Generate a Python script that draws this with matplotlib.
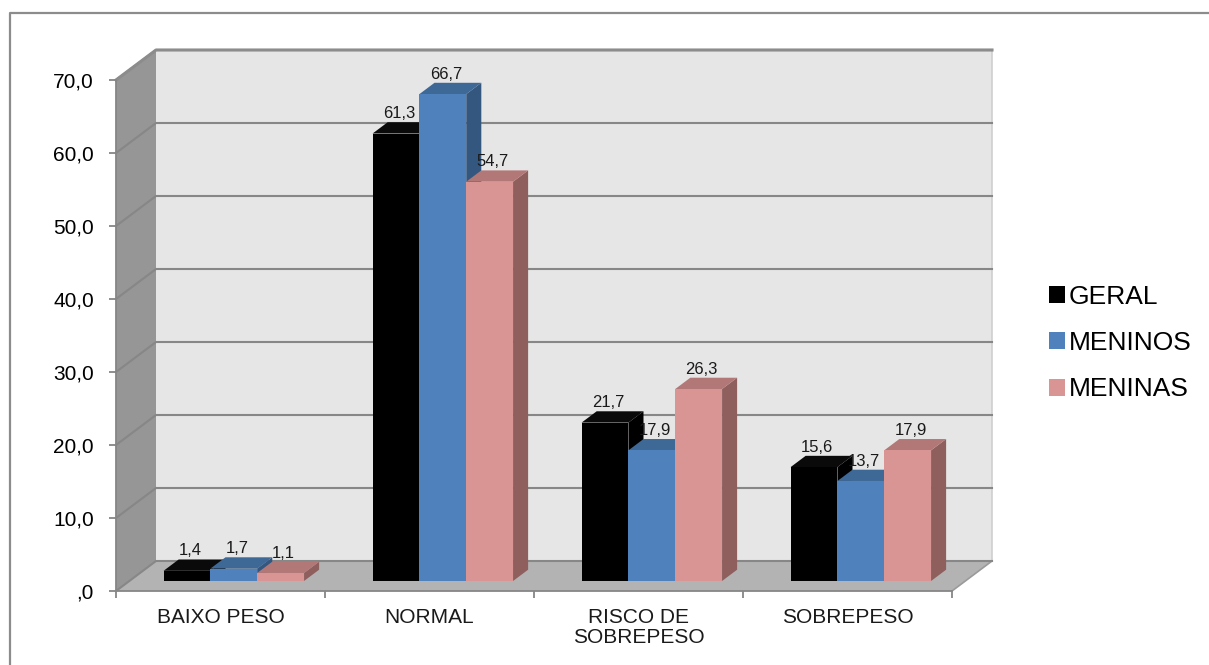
import matplotlib
matplotlib.use("Agg")
import matplotlib.pyplot as plt
from matplotlib import transforms
from matplotlib.patches import Polygon, Patch
from matplotlib.lines import Line2D

plt.rcParams['font.family'] = ['Liberation Sans', 'DejaVu Sans']

# dados
categorias = ['BAIXO PESO', 'NORMAL', 'RISCO DE\nSOBREPESO', 'SOBREPESO']
series = ['GERAL', 'MENINOS', 'MENINAS']
geral = [1.4, 61.3, 21.7, 15.6]
meninos = [1.7, 66.7, 17.9, 13.7]
meninas = [1.1, 54.7, 26.3, 17.9]
y_ticks = [0, 10, 20, 30, 40, 50, 60, 70]
y_labels = [',0', '10,0', '20,0', '30,0', '40,0', '50,0', '60,0', '70,0']

valores = [geral, meninos, meninas]
cores = ['#000000', '#4f81bd', '#d99594']
cores_topo = ['#0a0a0a', '#3e6896', '#b27877']
cores_lado = ['#000000', '#34577f', '#8f5f5e']

W, H = 1209, 665
fig = plt.figure(figsize=(W / 100, H / 100), dpi=100)
ax = fig.add_axes([116 / W, 74 / H, 836 / W, 511 / H])
ax.set_xlim(0, 4)
ax.set_ylim(0, 70)
ax.patch.set_visible(False)

# profundidade da perspectiva em pixels
DX, DY = 40, 30
ident = transforms.IdentityTransform()


def pt(x, y, d):
    px, py = ax.transData.transform((x, y))
    return (px + d * DX, py + d * DY)


def poly(pts, fc, z, ec='none', lw=0):
    ax.add_patch(Polygon(pts, closed=True, facecolor=fc, edgecolor=ec,
                         linewidth=lw, transform=ident, clip_on=False, zorder=z))


def linha(pts, color, lw, z):
    xs, ys = zip(*pts)
    ax.add_line(Line2D(xs, ys, color=color, linewidth=lw, transform=ident,
                       clip_on=False, zorder=z))


# moldura externa
fig.add_artist(Line2D([10, 10, W], [0, H - 13, H - 13], color='#8c8c8c',
                      linewidth=1.6, transform=ident))

# paredes e piso
poly([pt(0, 0, 1), pt(4, 0, 1), pt(4, 70, 1), pt(0, 70, 1)], '#e6e6e6', 0.1)
poly([pt(0, 0, 0), pt(0, 0, 1), pt(0, 70, 1), pt(0, 70, 0)], '#969696', 0.2)
poly([pt(0, 0, 0), pt(4, 0, 0), pt(4, 0, 1), pt(0, 0, 1)], '#b3b3b3', 0.2)
linha([pt(4, 0, 1), pt(4, 70, 1)], '#cfcfcf', 1.2, 0.3)
linha([pt(4, 0, 0), pt(4, 0, 1)], '#9a9a9a', 1.2, 0.3)
for v in y_ticks:
    linha([pt(0, v, 0), pt(0, v, 1), pt(4, v, 1)], '#878787', 1.5, 0.4)
linha([pt(0, 70, 0), pt(0, 70, 1), pt(4, 70, 1)], '#8c8c8c', 2.2, 0.45)

# barras 3D
w = 0.224
d0, d1 = 1 / 3, 0.71
z = 1
for i in range(len(categorias)):
    for j, vals in enumerate(valores):
        v = vals[i]
        x0 = i + 0.5 - 1.5 * w + j * w
        x1 = x0 + w
        poly([pt(x1, 0, d0), pt(x1, 0, d1), pt(x1, v, d1), pt(x1, v, d0)], cores_lado[j], z)
        poly([pt(x0, v, d0), pt(x1, v, d0), pt(x1, v, d1), pt(x0, v, d1)], cores_topo[j], z)
        poly([pt(x0, 0, d0), pt(x1, 0, d0), pt(x1, v, d0), pt(x0, v, d0)], cores[j], z)
        lx, ly = pt(x0 + w / 2, v, d1)
        ax.text(lx - DX * d1 + DX * d0 + 3, ly + 1, f'{v:.1f}'.replace('.', ','),
                transform=ident, ha='center', va='bottom', fontsize=12,
                color='#1a1a1a', zorder=z + 0.5)
        z += 1

# eixos
for s in ['top', 'right']:
    ax.spines[s].set_visible(False)
for s in ['left', 'bottom']:
    ax.spines[s].set_color('#868686')
    ax.spines[s].set_linewidth(1.3)
    ax.spines[s].set_zorder(0.5)
ax.set_yticks(y_ticks)
ax.set_yticklabels(y_labels, fontsize=15)
ax.tick_params(axis='y', length=5, width=1.3, color='#868686', pad=11)
ax.set_xticks([0, 1, 2, 3, 4])
ax.set_xticklabels([])
ax.set_xticks([0.5, 1.5, 2.5, 3.5], minor=True)
ax.set_xticklabels(categorias, minor=True, fontsize=15, linespacing=1.1)
ax.tick_params(axis='x', which='major', length=5, width=1.3, color='#868686')
ax.tick_params(axis='x', which='minor', length=0, pad=12, colors='#1a1a1a')

# legenda
handles = [Patch(facecolor=c, edgecolor='none') for c in cores]
fig.legend(handles, series, loc='center left', bbox_to_anchor=(1049 / W, 322 / H),
           bbox_transform=fig.transFigure, frameon=False, fontsize=19,
           handlelength=0.6, handleheight=0.6, handletextpad=0.15,
           labelspacing=0.85, borderpad=0, borderaxespad=0)

fig.savefig('out.png', dpi=100)
